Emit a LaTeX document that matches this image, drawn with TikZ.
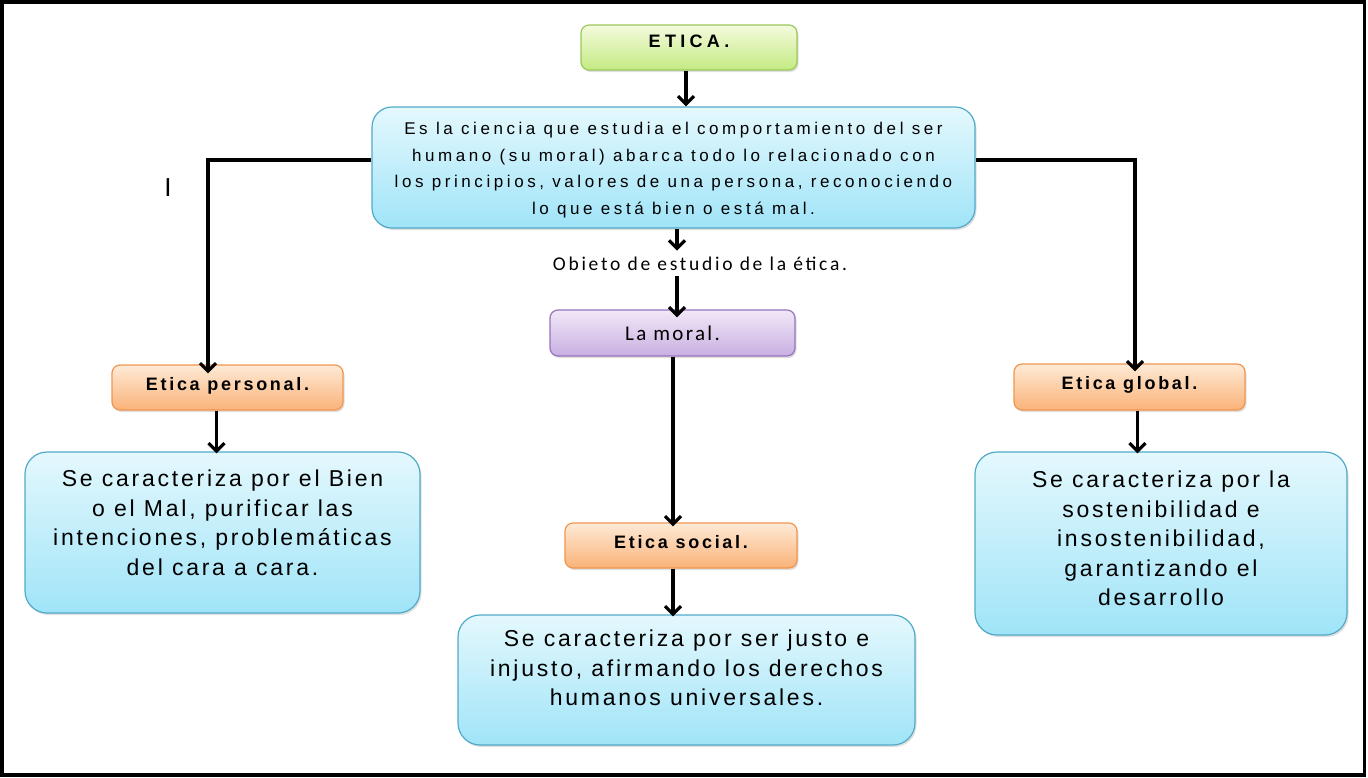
\documentclass[tikz,border=0pt]{standalone}
\usepackage{fontspec}
\setmainfont{Liberation Sans}
\newfontfamily\calibri{Carlito}
\usetikzlibrary{arrows.meta,shadows}

\definecolor{verdeA}{RGB}{244,251,222}
\definecolor{verdeB}{RGB}{196,234,130}
\definecolor{verdeL}{RGB}{155,200,90}
\definecolor{azulA}{RGB}{228,248,253}
\definecolor{azulB}{RGB}{160,228,248}
\definecolor{azulL}{RGB}{80,170,200}
\definecolor{naranjaA}{RGB}{254,234,214}
\definecolor{naranjaB}{RGB}{250,178,120}
\definecolor{naranjaL}{RGB}{240,150,80}
\definecolor{lilaA}{RGB}{242,232,248}
\definecolor{lilaB}{RGB}{200,175,225}
\definecolor{lilaL}{RGB}{150,115,190}

\begin{document}
\begin{tikzpicture}[x=1pt, y=-1pt,
  caja/.style={draw, line width=1.2pt, rounded corners=8pt, inner sep=0pt,
    drop shadow={shadow xshift=1.5pt, shadow yshift=-2pt, opacity=0.25}},
  verde/.style={caja, draw=verdeL, top color=verdeA, bottom color=verdeB},
  azul/.style={caja, draw=azulL, top color=azulA, bottom color=azulB, align=center},
  naranja/.style={caja, draw=naranjaL, top color=naranjaA, bottom color=naranjaB,
    font=\fontsize{18}{21}\selectfont\bfseries\addfontfeature{LetterSpace=15}},
  lila/.style={caja, draw=lilaL, top color=lilaA, bottom color=lilaB},
  texto/.style={font=\fontsize{23}{29.5}\selectfont\addfontfeature{LetterSpace=12}},
  flecha/.style={line width=3.4pt, -{Straight Barb[length=8pt, width=16pt, line width=3.2pt]}}
  ]

  \useasboundingbox (0,0) rectangle (1368,777);
  \draw[line width=3.5pt] (1.75,1.75) rectangle (1364.5,775);

  \node[verde, minimum width=216pt, minimum height=45pt, text depth=12pt,
    font=\fontsize{18}{21}\selectfont\bfseries\addfontfeature{LetterSpace=24}] (etica) at (689,47.5) {ETICA.};

  \node[azul, rounded corners=20pt, minimum width=603pt, minimum height=121pt, text depth=4pt,
    font=\fontsize{17}{26.7}\selectfont\addfontfeature{LetterSpace=21}] (ciencia) at (673.5,167.5)
    {\rule{0pt}{18pt}Es la ciencia que estudia el comportamiento del ser\\
     humano (su moral) abarca todo lo relacionado con\\
     los principios, valores de una persona, reconociendo\\
     lo que está bien o está mal.};

  \node[font=\fontsize{26}{30}\selectfont] (cursor) at (168,188) {I};

  \node[font=\calibri\fontsize{19.5}{22}\selectfont\addfontfeature{LetterSpace=14}] (objeto) at (700,264)
    {Obieto de estudio de la ética.};
  \node[lila, minimum width=245pt, minimum height=46pt,
    font=\calibri\fontsize{21}{24}\selectfont\addfontfeature{LetterSpace=11}] (moral) at (672.5,333) {La moral.};

  \node[naranja, minimum width=231pt, minimum height=45pt, text depth=8pt] (personal) at (227.5,387.5) {Etica personal.};
  \node[naranja, minimum width=232pt, minimum height=45pt, text depth=8pt] (social) at (681,545.5) {Etica social.};
  \node[naranja, minimum width=231pt, minimum height=46pt, text depth=8pt] (global) at (1129.5,387) {Etica global.};

  \node[azul, texto, rounded corners=22pt, minimum width=395pt, minimum height=161pt,
    text depth=20pt] (dpersonal) at (222.5,532.5)
    {Se caracteriza por el Bien\\o el Mal, purificar las\\intenciones, problemáticas\\del cara a cara.};
  \node[azul, texto, rounded corners=22pt, minimum width=457pt, minimum height=130pt,
    text depth=24pt] (dsocial) at (686.5,680)
    {Se caracteriza por ser justo e\\injusto, afirmando los derechos\\humanos universales.};
  \node[azul, texto, rounded corners=22pt, minimum width=372pt, minimum height=183pt,
    text depth=10pt] (dglobal) at (1161,543.5)
    {Se caracteriza por la\\sostenibilidad e\\insostenibilidad,\\garantizando el\\desarrollo};

  \coordinate (ejeA) at (677,0);
  \coordinate (ejeB) at (673,0);
  \coordinate (izq) at (208,160);
  \coordinate (der) at (1135,160);

  \draw[flecha] ([xshift=-3pt]etica.south) -- ([xshift=-3pt]etica.south |- ciencia.north); %% ETICA->ciencia
  \draw[flecha] (ciencia.south -| ejeA) -- ([yshift=3pt]objeto.north -| ejeA);
  \draw[flecha] ([yshift=-2pt]objeto.south -| ejeA) -- ([yshift=-8pt]moral.north -| ejeA);
  \draw[flecha] (moral.south -| ejeB) -- ([yshift=-4pt]social.north -| ejeB); %% moral->social
  \draw[flecha] (social.south -| ejeB) -- ([yshift=-2pt]dsocial.north -| ejeB);

  \draw[flecha] (ciencia.west |- izq) -- (izq) -- ([yshift=-9pt]izq |- personal.north); %% ciencia->personal
  \draw[flecha] (ciencia.east |- der) -- (der) -- ([yshift=-8pt]der |- global.north); %% ciencia->global
  \draw[flecha] ([xshift=-11pt]personal.south) -- ([xshift=-11pt,yshift=-2pt]personal.south |- dpersonal.north);
  \draw[flecha] ([xshift=8pt]global.south) -- ([xshift=8pt,yshift=-2pt]global.south |- dglobal.north);
\end{tikzpicture}
\end{document}
